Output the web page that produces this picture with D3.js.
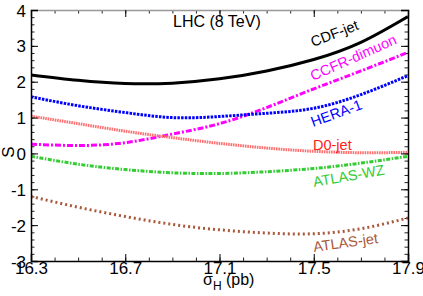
<!DOCTYPE html>
<head>
    <meta charset="utf-8">
    <script src="https://d3js.org/d3.v7.min.js"></script>
    <style>
        body { margin: 0; background: #fff; }
        text { font-family: "Liberation Sans", Arial, sans-serif; }
    </style>
</head>
<body>
    <svg width="423" height="296"></svg>
    <script>
        // sigma_H grid (pb)
        var sigma = [16.3, 16.5, 16.7, 16.9, 17.1, 17.3, 17.5, 17.7, 17.9];

        var cdfJet   = [2.19, 2.04, 1.95, 1.96, 2.08, 2.30, 2.62, 3.10, 3.82];
        var ccfr     = [0.26, 0.22, 0.30, 0.54, 0.83, 1.28, 1.80, 2.30, 2.82];
        var hera1    = [1.58, 1.33, 1.14, 1.00, 1.03, 1.12, 1.26, 1.64, 2.17];
        var d0Jet    = [1.04, 0.83, 0.62, 0.44, 0.28, 0.15, 0.06, 0.02, 0.03];
        var atlasWZ  = [-0.08, -0.30, -0.45, -0.54, -0.56, -0.51, -0.42, -0.27, -0.08];
        var atlasJet = [-1.20, -1.50, -1.76, -1.98, -2.13, -2.22, -2.24, -2.10, -1.80];

        var xMajor = [16.3, 16.7, 17.1, 17.5, 17.9];
        var yMajor = [-3, -2, -1, 0, 1, 2, 3, 4];

        var series = [
            { name: "CDF-jet",     values: cdfJet,   color: "#000000", dash: null,          width: 3,
              lab: { x: 313, y: 47, rot: -21, color: "#000000" } },
            { name: "CCFR-dimuon", values: ccfr,     color: "#ff00ff", dash: "6,2,2,2",     width: 3,
              lab: { x: 313, y: 81, rot: -24, color: "#ff00ff" } },
            { name: "HERA-1",      values: hera1,    color: "#0000ff", dash: "2.5,1.2",     width: 3,
              lab: { x: 313, y: 127, rot: -20, color: "#0000ff" } },
            { name: "D0-jet",      values: d0Jet,    color: "#ff7070", dash: "1.6,0.8",     width: 3,
              lab: { x: 313, y: 150, rot: 0, color: "#ff2020" } },
            { name: "ATLAS-WZ",    values: atlasWZ,  color: "#33cc33", dash: "4,1.5,1.5,1.5", width: 3,
              lab: { x: 314, y: 187, rot: -10, color: "#33cc33" } },
            { name: "ATLAS-jet",   values: atlasJet, color: "#a9583a", dash: "2,3",         width: 3,
              lab: { x: 314, y: 252, rot: -8, color: "#a9583a" } }
        ];

        var pLeft = 31, pRight = 408, pTop = 10, pBottom = 261;
        var svg = d3.select("svg");

        var x = d3.scaleLinear().domain([16.3, 17.9]).range([pLeft, pRight]);
        var y = d3.scaleLinear().domain([-3, 4]).range([pBottom, pTop]);

        var xMinor = d3.range(16.3, 17.95, 0.1);
        var yMinor = d3.range(-3, 4.01, 0.2);

        // minor ticks
        function minor(axis, ticks, tr) {
            svg.append("g").attr("transform", tr)
                .call(axis.tickValues(ticks).tickSize(-3.5).tickFormat(""))
                .call(g => g.select(".domain").remove())
                .selectAll("line").attr("stroke", "#222");
        }
        minor(d3.axisBottom(x), xMinor, "translate(0," + pBottom + ")");
        minor(d3.axisTop(x), xMinor, "translate(0," + pTop + ")");
        minor(d3.axisLeft(y), yMinor, "translate(" + pLeft + ",0)");
        minor(d3.axisRight(y), yMinor, "translate(" + pRight + ",0)");

        // curves
        var line = d3.line()
            .x((d, i) => x(sigma[i]))
            .y(d => y(d))
            .curve(d3.curveNatural);

        svg.append("defs").append("clipPath").attr("id", "clip")
            .append("rect").attr("x", pLeft).attr("y", pTop)
            .attr("width", pRight - pLeft).attr("height", pBottom - pTop);

        svg.append("g").attr("clip-path", "url(#clip)")
            .selectAll("path")
            .data(series)
            .enter().append("path")
            .attr("d", d => line(d.values))
            .attr("fill", "none")
            .attr("stroke", d => d.color)
            .attr("stroke-width", d => d.width)
            .attr("stroke-dasharray", d => d.dash);

        // major ticks + labels
        var xAxis = svg.append("g").attr("transform", "translate(0," + pBottom + ")")
            .call(d3.axisBottom(x).tickValues(xMajor).tickSize(-7).tickFormat(d3.format(".1f")));
        xAxis.selectAll("text").attr("font-size", 17).attr("fill", "#000")
            .attr("font-family", "Liberation Sans, Arial, sans-serif")
            .attr("y", 13).attr("dy", 0);

        svg.append("g").attr("transform", "translate(0," + pTop + ")")
            .call(d3.axisTop(x).tickValues(xMajor).tickSize(-7).tickFormat(""))
            .call(g => g.select(".domain").attr("stroke", "#999"));

        var yAxis = svg.append("g").attr("transform", "translate(" + pLeft + ",0)")
            .call(d3.axisLeft(y).tickValues(yMajor).tickSize(-7).tickFormat(d => String(d)));
        yAxis.selectAll("text").attr("font-size", 17).attr("fill", "#000")
            .attr("font-family", "Liberation Sans, Arial, sans-serif")
            .attr("x", -5).attr("dy", "0.36em");

        svg.append("g").attr("transform", "translate(" + pRight + ",0)")
            .call(d3.axisRight(y).tickValues(yMajor).tickSize(-7).tickFormat(""));

        svg.selectAll(".domain").attr("stroke-width", 1.5);
        svg.selectAll(".tick line").attr("stroke-width", 1);

        // series labels
        svg.selectAll(".slab")
            .data(series)
            .enter().append("text")
            .attr("class", "slab")
            .attr("transform", d => "translate(" + d.lab.x + "," + d.lab.y + ") rotate(" + d.lab.rot + ")")
            .attr("font-size", 14.5)
            .attr("fill", d => d.lab.color)
            .text(d => d.name);

        // title
        svg.append("text")
            .attr("x", 173).attr("y", 27)
            .attr("font-size", 16)
            .text("LHC (8 TeV)");

        // axis titles
        var xt = svg.append("text")
            .attr("x", 203).attr("y", 285)
            .attr("font-size", 16);
        xt.append("tspan").text("σ");
        xt.append("tspan").attr("font-size", 12).attr("dy", 5).text("H");
        xt.append("tspan").attr("dy", -5).text(" (pb)");

        svg.append("text")
            .attr("transform", "translate(14,152) rotate(-90)")
            .attr("text-anchor", "middle")
            .attr("font-size", 17)
            .text("S");
    </script>
</body>
